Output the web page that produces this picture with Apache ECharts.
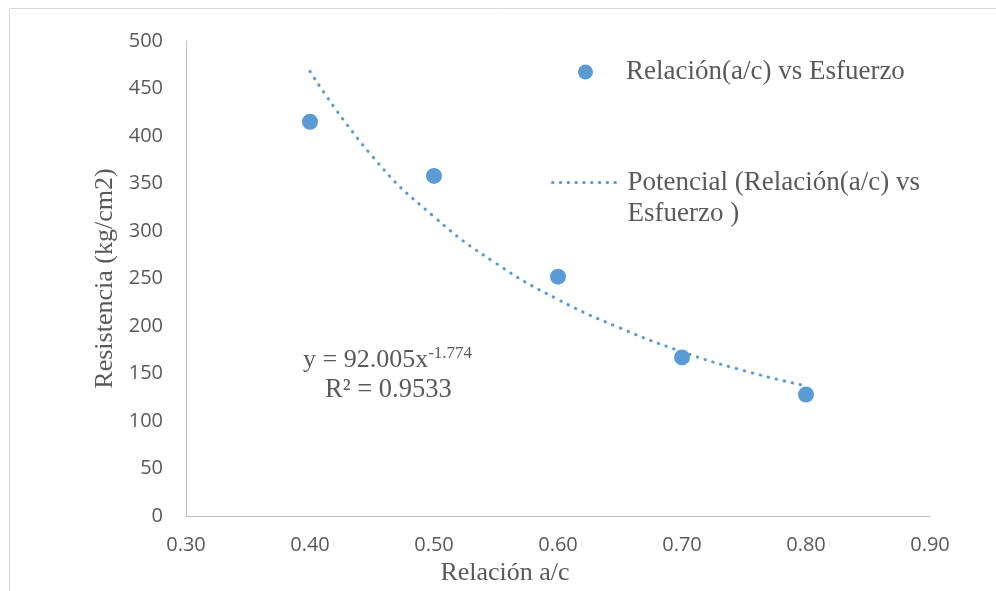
<!DOCTYPE html>
<html><head><meta charset="utf-8">
<script src="https://cdn.jsdelivr.net/npm/echarts@6/dist/echarts.min.js"></script>
<style>html,body{margin:0;padding:0;background:#fff}#c{width:996px;height:591px}</style>
</head><body><div id="c"></div>
<script>
const ratios = [0.40, 0.50, 0.60, 0.70, 0.80];
const strength = [415, 358, 252, 167, 128];
const trendX = [0.40, 0.45, 0.50, 0.55, 0.60, 0.65, 0.70, 0.75, 0.80];
const trendY = [468, 379, 315, 266, 228, 198, 173, 153, 137];
const xTicks = ['0.30','0.40','0.50','0.60','0.70','0.80','0.90'];
const seriesName1 = 'Relación(a/c) vs Esfuerzo';
const seriesName2 = 'Potencial (Relación(a/c) vs Esfuerzo )';
const legend2Lines = ['Potencial (Relación(a/c) vs', 'Esfuerzo )'];

const col = '#5B9BD5';
const txt = '#595959';
const serif = '"Liberation Serif", "Times New Roman", serif';
const sans = '"Open Sans", "Noto Sans", sans-serif';
const FS = 26;
const LFS = 27;

const chart = echarts.init(document.getElementById('c'), null, {renderer: 'canvas'});
chart.setOption({
  animation: false,
  backgroundColor: '#fff',
  grid: {left: 186, right: 66, top: 41, bottom: 67},
  xAxis: {
    type: 'value', min: 0.3, max: 0.9, interval: 0.1,
    name: 'Relación a/c', nameLocation: 'middle', nameGap: 43,
    nameTextStyle: {fontFamily: serif, fontSize: FS, color: txt, padding: [0, 106, 0, 0]},
    axisLine: {show: true, lineStyle: {color: '#BFBFBF', width: 1}},
    axisTick: {show: false},
    splitLine: {show: false},
    axisLabel: {fontFamily: sans, fontSize: 20, color: txt, margin: 19,
      formatter: v => xTicks[Math.round((v - 0.3) * 10)] }
  },
  yAxis: {
    type: 'value', min: 0, max: 500, interval: 50,
    name: 'Resistencia (kg/cm2)', nameLocation: 'middle', nameGap: 68,
    nameTextStyle: {fontFamily: serif, fontSize: FS, color: txt},
    axisLine: {show: true, lineStyle: {color: '#BFBFBF', width: 1}},
    axisTick: {show: false},
    splitLine: {show: false},
    axisLabel: {fontFamily: sans, fontSize: 20, color: txt, margin: 23}
  },
  legend: [
    {
      data: [seriesName1], left: 573, top: 52, orient: 'vertical',
      itemWidth: 15, itemHeight: 15, icon: 'circle',
      textStyle: {fontFamily: serif, fontSize: LFS, color: txt, lineHeight: 30, padding: [0, 0, 0, 28]}
    },
    {
      data: [seriesName2], left: 546, top: 131, orient: 'vertical',
      itemWidth: 70, itemHeight: 14,
      itemStyle: {opacity: 0},
      lineStyle: {color: col, width: 3, type: [0.5, 7.3], cap: 'round'},
      formatter: () => '{e| }\n{a|' + legend2Lines[0] + '}\n{a|' + legend2Lines[1] + '}',
      textStyle: {fontFamily: serif, fontSize: LFS, color: txt, lineHeight: 31,
        rich: {e: {fontSize: LFS, lineHeight: 31}, a: {fontFamily: serif, fontSize: LFS, color: txt, lineHeight: 31}}}
    }
  ],
  graphic: [
    {type: 'rect', silent: true, shape: {x: 9.5, y: 8.5, width: 1100, height: 700},
     style: {fill: 'none', stroke: '#D9D9D9', lineWidth: 1}},
    {type: 'text', silent: true, style: {
      x: 303, y: 360, verticalAlign: 'middle',
      text: '{a|y = 92.005x}{s|-1.774}', rich: {
        a: {fontFamily: serif, fontSize: FS, fill: txt, lineHeight: 30},
        s: {fontFamily: serif, fontSize: 17, fill: txt, verticalAlign: 'top', lineHeight: 20}
      }}},
    {type: 'text', silent: true, style: {
      x: 325, y: 390, verticalAlign: 'middle',
      text: 'R² = 0.9533', fontFamily: serif, fontSize: FS + 0.5, fill: txt}}
  ],
  series: [
    {
      name: seriesName1, type: 'scatter', symbolSize: 16,
      itemStyle: {color: col, opacity: 1},
      data: ratios.map((x, i) => [x, strength[i]]),
      z: 3
    },
    {
      name: seriesName2, type: 'line', smooth: true, showSymbol: false, symbol: 'none',
      lineStyle: {color: col, width: 3, type: [0.5, 7.7], cap: 'round'},
      itemStyle: {color: col},
      data: trendX.map((x, i) => [x, trendY[i]]),
      z: 2
    }
  ]
});
</script></body></html>
